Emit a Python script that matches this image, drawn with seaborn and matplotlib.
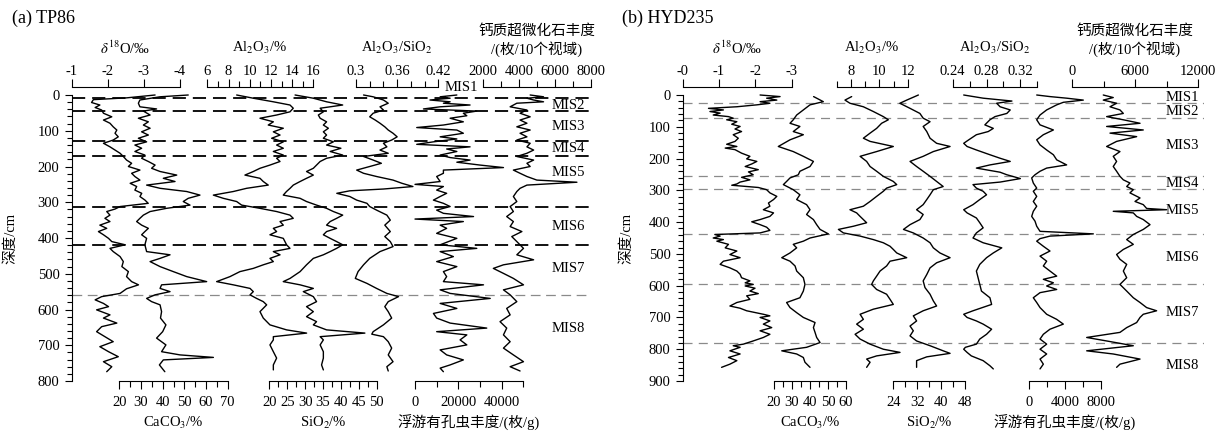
import matplotlib
matplotlib.use("Agg")
import matplotlib.pyplot as plt
import seaborn as sns
import pandas as pd
from matplotlib.ticker import FixedLocator, FixedFormatter

# ======================= (a) TP86 =======================
tp_d18o_depth = [0, 8, 13, 21, 28, 35, 42, 51, 61, 70,
                 79, 89, 98, 107, 117, 126, 135, 145, 154, 163,
                 172, 182, 191, 200, 210, 219, 228, 238, 247, 256,
                 266, 275, 284, 294, 303, 312, 319, 326, 336, 345,
                 354, 364, 373, 382, 391, 401, 410, 419, 429, 438,
                 452, 466, 480, 494, 508, 522, 531, 542, 555, 564,
                 573, 583, 592, 601, 615, 624, 638, 648, 662, 676,
                 690, 704, 718, 732, 746, 760, 774]
tp_d18o = [-3.31, -2.52, -1.60, -1.55, -1.78, -1.65, -1.83, -1.88, -2.11, -1.88,
           -2.06, -2.15, -2.25, -2.20, -2.29, -2.15, -1.88, -2.06, -2.20, -2.34,
           -2.43, -2.52, -2.66, -2.57, -2.89, -2.66, -2.75, -2.89, -2.62, -2.80,
           -2.75, -2.94, -2.89, -3.03, -3.12, -2.34, -2.20, -1.97, -2.06, -1.92,
           -2.06, -1.78, -1.97, -1.74, -1.88, -2.02, -2.11, -2.48, -2.06, -2.15,
           -2.34, -2.43, -2.39, -2.57, -2.52, -2.66, -2.85, -2.52, -2.34, -1.83,
           -1.65, -1.88, -2.02, -1.69, -2.06, -1.88, -2.25, -1.83, -1.69, -1.92,
           -2.15, -1.78, -2.02, -2.29, -1.88, -2.11, -1.97]

tp_caco3_depth = [0, 5, 14, 23, 33, 39, 45, 56, 65, 75,
                  84, 93, 103, 112, 121, 131, 140, 149, 158, 168,
                  177, 186, 196, 205, 214, 224, 233, 242, 252, 261,
                  270, 280, 289, 298, 308, 317, 326, 336, 345, 354,
                  364, 373, 382, 391, 401, 419, 438, 447, 457, 466,
                  480, 494, 508, 522, 531, 541, 550, 559, 569, 578,
                  587, 606, 624, 643, 662, 680, 699, 718, 727, 734,
                  741, 755, 774]
tp_caco3 = [51.8, 38.8, 29.5, 28.8, 29.5, 37.2, 31.1, 34.2, 28.8, 33.4,
            31.1, 34.2, 30.3, 33.4, 28.8, 32.6, 27.2, 30.3, 27.2, 31.8,
            30.3, 33.4, 36.5, 34.9, 38.8, 46.5, 40.3, 45.7, 32.6, 38.8,
            51.1, 57.2, 51.8, 49.5, 52.6, 41.8, 34.2, 31.1, 29.5, 28.0,
            30.3, 33.4, 31.8, 30.3, 32.6, 31.8, 32.6, 43.4, 38.8, 34.2,
            38.8, 44.9, 51.1, 60.3, 39.5, 38.8, 43.4, 36.5, 32.6, 34.9,
            38.8, 39.5, 39.0, 41.5, 40.0, 37.2, 41.5, 39.5, 48.0, 63.4,
            40.3, 38.5, 41.0]

tp_al2o3_depth = [0, 9, 19, 28, 37, 47, 56, 65, 75, 84,
                  93, 103, 112, 121, 131, 140, 149, 158, 168, 177,
                  186, 196, 205, 214, 224, 233, 242, 252, 261, 270,
                  280, 289, 298, 308, 317, 326, 336, 345, 354, 364,
                  373, 382, 391, 401, 419, 429, 438, 447, 457, 466,
                  475, 485, 494, 508, 522, 531, 541, 550, 559, 569,
                  578, 587, 606, 624, 643, 657, 666, 676, 685, 699,
                  718, 736, 755, 769]
tp_al2o3 = [8.77, 10.34, 12.23, 13.80, 14.11, 13.80, 12.54, 10.97, 12.23, 11.75,
            13.17, 12.23, 12.86, 12.07, 13.17, 12.54, 13.17, 12.23, 13.17, 12.54,
            12.86, 11.91, 10.97, 10.34, 9.55, 10.97, 11.28, 11.75, 9.71, 8.45,
            6.57, 7.51, 8.77, 9.24, 10.97, 12.54, 13.80, 14.11, 12.86, 13.17,
            12.23, 12.54, 11.91, 13.17, 13.48, 13.80, 12.23, 12.86, 11.91, 12.23,
            11.28, 10.34, 9.08, 8.14, 6.88, 8.45, 10.03, 10.34, 10.03, 10.65,
            11.28, 11.60, 10.97, 11.28, 11.91, 13.48, 15.37, 12.23, 12.23, 11.91,
            12.23, 12.54, 12.23, 12.23]

tp_sio2_depth = [0, 9, 19, 28, 37, 47, 56, 65, 75, 84,
                 93, 103, 112, 121, 131, 140, 149, 158, 168, 177,
                 186, 196, 205, 214, 224, 233, 242, 252, 261, 270,
                 280, 289, 298, 308, 317, 326, 336, 345, 354, 364,
                 373, 382, 391, 401, 410, 419, 429, 438, 447, 457,
                 475, 494, 513, 522, 531, 541, 550, 564, 578, 592,
                 606, 620, 634, 643, 657, 666, 676, 685, 699, 718,
                 736, 755, 769]
tp_sio2 = [27.2, 32.3, 36.0, 40.5, 34.2, 35.1, 33.7, 34.2, 36.0, 35.1,
           36.5, 35.1, 36.0, 35.1, 37.9, 36.0, 40.0, 37.0, 40.5, 36.0,
           34.2, 33.2, 32.3, 30.4, 32.3, 30.4, 28.6, 26.7, 25.8, 24.8,
           23.9, 28.6, 30.4, 33.2, 36.0, 37.9, 40.5, 38.8, 37.0, 36.0,
           38.8, 36.0, 35.1, 37.0, 38.8, 40.5, 38.8, 37.0, 35.1, 32.3,
           30.4, 28.6, 25.8, 23.9, 28.6, 32.3, 29.5, 32.3, 33.2, 30.4,
           32.3, 30.4, 33.2, 32.3, 36.0, 46.7, 34.2, 35.1, 34.2, 35.1,
           35.1, 34.6, 35.1]

tp_ratio_depth = [0, 5, 14, 23, 33, 42, 51, 61, 70, 79,
                  89, 98, 107, 117, 126, 135, 145, 154, 163, 172,
                  182, 191, 200, 210, 219, 228, 238, 247, 256, 263,
                  268, 275, 284, 294, 303, 312, 322, 336, 350, 364,
                  382, 396, 410, 424, 438, 457, 475, 494, 513, 527,
                  541, 555, 564, 578, 592, 606, 624, 643, 662, 669,
                  676, 690, 708, 727, 746, 760, 772]
tp_ratio = [0.311, 0.325, 0.340, 0.347, 0.335, 0.340, 0.325, 0.320, 0.328, 0.335,
            0.342, 0.347, 0.354, 0.360, 0.352, 0.340, 0.345, 0.335, 0.347, 0.311,
            0.325, 0.337, 0.320, 0.301, 0.311, 0.330, 0.354, 0.367, 0.383, 0.340,
            0.291, 0.272, 0.291, 0.301, 0.316, 0.320, 0.330, 0.345, 0.350, 0.342,
            0.350, 0.342, 0.350, 0.354, 0.335, 0.320, 0.311, 0.303, 0.299, 0.316,
            0.330, 0.345, 0.362, 0.347, 0.342, 0.347, 0.352, 0.340, 0.325, 0.323,
            0.340, 0.347, 0.352, 0.347, 0.354, 0.345, 0.347]

tp_foram_depth = [0, 5, 9, 14, 19, 23, 28, 33, 39, 45,
                  51, 58, 65, 75, 84, 91, 98, 107, 117, 123,
                  131, 138, 145, 151, 158, 168, 175, 182, 188, 196,
                  203, 210, 219, 228, 242, 250, 256, 266, 275, 284,
                  294, 303, 312, 322, 331, 340, 347, 354, 364, 373,
                  387, 401, 419, 429, 438, 452, 466, 480, 494, 508,
                  522, 531, 545, 555, 569, 583, 597, 611, 624, 638,
                  652, 662, 671, 685, 699, 713, 727, 741, 755, 764,
                  774]
tp_foram = [19300, 11600, 16200, 6900, 16200, 13100, 25400, 11600, 3900, 28500,
            22300, 23900, 16200, 22300, 13100, 800, 19300, 22300, 11600, 19300,
            8500, 800, 25400, 14600, 19300, 11600, 16200, 25400, 19300, 30000,
            40800, 13100, 13100, 10000, 11600, 0, 13100, 10000, 14600, 11600,
            8500, 13100, 16200, 10000, 13100, 27000, 0, 22300, 11600, 14600,
            10000, 19300, 11600, 28500, 11600, 17700, 10000, 19300, 13100, 14600,
            13100, 31600, 11600, 16200, 34700, 11600, 19300, 8500, 10000, 16200,
            33100, 10000, 23900, 20800, 23900, 11600, 14600, 22300, 16200, 11600,
            13100]

tp_nanno_depth = [0, 5, 9, 14, 19, 23, 33, 42, 51, 61,
                  70, 79, 89, 98, 107, 117, 126, 135, 145, 154,
                  163, 172, 182, 191, 200, 210, 219, 228, 238, 244,
                  252, 261, 270, 284, 298, 312, 326, 340, 354, 368,
                  382, 396, 410, 429, 447, 461, 475, 485, 499, 513,
                  531, 545, 559, 578, 597, 615, 634, 652, 671, 690,
                  708, 727, 746, 760, 772]
tp_nanno = [4630, 5370, 4450, 4820, 5370, 3890, 3520, 4450, 4070, 4630,
            4070, 4450, 3890, 4630, 4070, 4450, 3890, 4630, 4450, 4820,
            4450, 3890, 4820, 4450, 4630, 3700, 4070, 4450, 5000, 7220,
            4450, 4070, 3890, 3700, 3890, 3520, 3700, 3330, 3700, 3520,
            4170, 3610, 3890, 4260, 3890, 4820, 3150, 2590, 3150, 3700,
            4260, 3150, 3520, 3890, 3330, 3520, 2960, 3330, 3150, 3520,
            3150, 3700, 4260, 3520, 4070]

tp_mis_bounds = [7, 44, 129, 171, 314, 420, 559]
tp_mis_names = ["MIS1", "MIS2", "MIS3", "MIS4", "MIS5", "MIS6", "MIS7", "MIS8"]
tp_mis_label_depth = [-22, 28, 89, 149, 216, 368, 484, 653]

# ======================= (b) HYD235 =======================
hy_d18o_depth = [0, 5, 10, 16, 21, 26, 31, 37, 42, 47,
                 52, 57, 63, 68, 73, 78, 84, 92, 99, 107,
                 115, 125, 136, 146, 155, 162, 167, 172, 183, 193,
                 201, 209, 217, 225, 235, 242, 251, 259, 267, 274,
                 280, 284, 291, 298, 308, 319, 329, 340, 350, 361,
                 371, 382, 392, 399, 408, 416, 426, 434, 439, 444,
                 450, 455, 460, 470, 481, 491, 502, 512, 523, 533,
                 544, 554, 564, 575, 585, 591, 596, 601, 608, 617,
                 625, 632, 643, 653, 664, 671, 679, 690, 695, 700,
                 711, 721, 732, 742, 753, 763, 774, 784, 789, 794,
                 805, 815, 826, 836, 847, 857]
hy_d18o = [-2.13, -2.68, -2.31, -2.59, -2.13, -2.40, -2.04, -1.49, -0.71, -1.12,
           -0.75, -1.03, -0.84, -1.26, -1.39, -1.21, -1.49, -1.35, -1.58, -1.44,
           -1.62, -1.39, -1.53, -1.44, -1.21, -1.49, -1.17, -1.44, -1.62, -1.85,
           -1.76, -2.04, -1.90, -1.72, -2.08, -1.81, -1.94, -1.62, -1.85, -1.58,
           -1.49, -1.35, -2.08, -2.31, -2.40, -2.59, -2.50, -2.36, -2.40, -2.22,
           -2.50, -2.40, -2.13, -1.90, -2.13, -2.31, -2.40, -2.13, -0.89, -1.03,
           -0.84, -1.12, -0.94, -1.26, -1.17, -1.49, -1.30, -1.58, -1.12, -1.03,
           -1.30, -1.49, -1.58, -1.62, -1.85, -1.72, -1.94, -1.72, -1.99, -1.85,
           -2.08, -1.76, -1.85, -1.49, -1.30, -1.58, -1.76, -2.22, -2.40, -2.13,
           -2.40, -2.22, -2.45, -2.13, -2.40, -2.22, -1.94, -1.67, -1.39, -1.58,
           -1.30, -1.58, -1.26, -1.49, -1.30, -1.07]

hy_caco3_depth = [5, 10, 21, 31, 47, 63, 78, 89, 99, 115,
                  125, 141, 162, 178, 193, 209, 225, 240, 251, 261,
                  272, 282, 298, 314, 329, 345, 361, 376, 392, 408,
                  423, 437, 450, 460, 470, 481, 497, 512, 523, 538,
                  554, 575, 596, 617, 638, 653, 669, 685, 700, 716,
                  732, 747, 763, 779, 794, 805, 815, 826, 841, 857]
hy_caco3 = [42.0, 43.7, 47.4, 40.0, 36.3, 32.6, 30.7, 28.9, 34.4, 30.7,
            36.3, 28.9, 22.4, 30.7, 36.3, 41.9, 40.0, 34.4, 33.5, 28.9,
            27.0, 25.2, 30.7, 34.4, 32.6, 38.1, 40.0, 38.1, 41.9, 43.7,
            45.6, 50.2, 40.0, 36.3, 30.7, 32.6, 28.9, 24.3, 28.9, 31.7,
            32.6, 36.3, 37.2, 36.3, 34.4, 27.0, 28.9, 32.6, 36.3, 42.8,
            41.9, 42.8, 43.7, 45.6, 38.1, 24.3, 32.6, 36.3, 37.2, 40.0]

hy_al2o3_depth = [5, 16, 26, 37, 52, 68, 78, 89, 105, 120,
                  136, 146, 162, 178, 193, 209, 225, 240, 256, 272,
                  282, 293, 303, 319, 335, 350, 361, 371, 382, 392,
                  402, 413, 423, 434, 444, 455, 465, 476, 486, 497,
                  512, 523, 538, 554, 570, 585, 596, 612, 627, 643,
                  659, 674, 690, 706, 721, 737, 753, 768, 784, 800,
                  810, 821, 831, 841, 857]
hy_al2o3 = [8.05, 7.58, 7.93, 8.87, 9.57, 10.27, 10.62, 10.15, 9.80, 9.34,
            8.87, 9.34, 10.97, 9.80, 8.64, 9.10, 9.34, 9.80, 10.27, 10.97,
            11.21, 10.50, 10.27, 9.80, 9.34, 8.87, 7.93, 8.40, 8.64, 8.87,
            9.10, 8.17, 7.12, 7.47, 8.64, 9.57, 10.27, 10.74, 10.97, 11.21,
            11.91, 10.74, 10.50, 10.04, 9.80, 9.57, 9.45, 9.80, 10.50, 10.74,
            10.97, 9.57, 8.64, 8.87, 8.40, 8.87, 8.29, 8.64, 9.34, 10.27,
            11.44, 9.80, 9.10, 9.34, 9.10]

hy_sio2_depth = [0, 16, 26, 42, 58, 73, 84, 99, 115, 136,
                 152, 162, 178, 193, 209, 225, 240, 256, 272, 288,
                 298, 314, 329, 345, 361, 376, 392, 408, 423, 434,
                 450, 465, 481, 497, 512, 528, 544, 565, 585, 606,
                 627, 648, 664, 679, 695, 711, 727, 742, 758, 774,
                 789, 805, 813, 824, 836, 857]
hy_sio2 = [32.4, 28.5, 26.2, 29.6, 32.9, 34.0, 36.3, 34.0, 35.2, 36.3,
           38.5, 43.0, 37.4, 34.0, 29.6, 31.8, 34.0, 36.3, 38.5, 40.7,
           37.4, 36.3, 35.2, 34.0, 31.8, 34.0, 32.9, 29.6, 27.4, 30.7,
           34.0, 36.3, 37.4, 39.6, 43.0, 38.5, 36.3, 35.2, 34.0, 34.6,
           36.3, 37.4, 38.5, 34.0, 30.7, 31.8, 29.6, 30.7, 29.6, 31.8,
           36.3, 40.7, 43.0, 35.2, 31.8, 31.8]

hy_ratio_depth = [0, 10, 19, 26, 37, 47, 58, 68, 78, 94,
                  105, 115, 125, 141, 152, 162, 173, 188, 199, 209,
                  220, 230, 243, 251, 263, 274, 282, 293, 303, 314,
                  329, 345, 361, 371, 387, 402, 418, 434, 450, 465,
                  481, 497, 512, 533, 554, 575, 596, 617, 638, 659,
                  679, 690, 700, 711, 721, 737, 753, 768, 784, 794,
                  800, 810, 821, 836, 852, 862]
hy_ratio = [0.253, 0.276, 0.310, 0.292, 0.296, 0.308, 0.304, 0.290, 0.284, 0.278,
            0.288, 0.282, 0.268, 0.259, 0.253, 0.257, 0.268, 0.284, 0.296, 0.308,
            0.284, 0.268, 0.296, 0.304, 0.320, 0.296, 0.264, 0.268, 0.276, 0.280,
            0.272, 0.264, 0.253, 0.257, 0.268, 0.272, 0.276, 0.268, 0.264, 0.276,
            0.298, 0.288, 0.280, 0.272, 0.268, 0.270, 0.272, 0.274, 0.284, 0.286,
            0.264, 0.253, 0.257, 0.268, 0.276, 0.286, 0.280, 0.272, 0.268, 0.255,
            0.253, 0.257, 0.262, 0.276, 0.284, 0.288]

hy_foram_depth = [0, 5, 10, 16, 23, 31, 47, 63, 78, 94,
                  110, 125, 141, 157, 173, 188, 204, 220, 230, 240,
                  251, 261, 277, 293, 303, 319, 335, 350, 366, 382,
                  397, 413, 429, 437, 444, 452, 460, 476, 491, 507,
                  523, 538, 554, 570, 580, 591, 601, 612, 622, 638,
                  653, 669, 690, 706, 721, 737, 753, 768, 784, 800,
                  815, 831, 847, 862]
hy_foram = [860, 2340, 4200, 6060, 3830, 3090, 1970, 1230, 860, 1230,
            2720, 1600, 860, 1230, 1970, 2720, 3090, 4200, 1970, 1230,
            670, 300, 480, 860, 480, 860, 480, 860, 480, 300,
            670, 860, 1230, 7180, 2340, 1230, 860, 1600, 2340, 1230,
            1970, 1600, 2340, 3090, 1600, 2720, 1970, 3090, 1230, 480,
            860, 1230, 1970, 3090, 3830, 2340, 1600, 1230, 1970, 1230,
            1970, 1230, 1600, 1230]

hy_nanno_depth = [0, 8, 16, 26, 37, 47, 58, 68, 78, 89,
                  99, 110, 120, 131, 146, 162, 178, 193, 209, 225,
                  240, 256, 267, 277, 288, 298, 308, 324, 335, 345,
                  357, 361, 366, 371, 382, 392, 408, 423, 439, 455,
                  470, 486, 502, 517, 533, 554, 575, 596, 617, 638,
                  653, 669, 679, 690, 700, 716, 732, 747, 763, 774,
                  789, 805, 815, 831, 847, 857]
hy_nanno = [2950, 3900, 2950, 4220, 3590, 4540, 4860, 3270, 4860, 6450,
            3270, 6760, 3590, 6130, 4220, 3270, 4540, 3900, 4220, 3900,
            4220, 4540, 4860, 5490, 5180, 5810, 5490, 6450, 5970, 6760,
            7080, 8990, 3900, 5810, 6130, 6760, 7400, 6760, 5810, 5180,
            5810, 4860, 4220, 4540, 5180, 4860, 5180, 4540, 5180, 5810,
            6450, 7080, 8030, 6760, 6450, 6130, 5180, 4540, 1370, 3270,
            5810, 1370, 3900, 6450, 4540, 4220]

hy_mis_bounds = [26, 71, 256, 296, 437, 594, 779]
hy_mis_names = ["MIS1", "MIS2", "MIS3", "MIS4", "MIS5", "MIS6", "MIS7", "MIS8"]
hy_mis_label_depth = [8, 52, 160, 277, 364, 512, 686, 850]

# ======================= style =======================
sns.set_style("ticks")
plt.rcParams.update({
    "font.family": ["Liberation Serif", "Noto Sans CJK SC"],
    "mathtext.fontset": "stix",
    "axes.unicode_minus": False,
    "lines.scale_dashes": False,
    "axes.edgecolor": "black",
    "axes.labelcolor": "black",
    "text.color": "black",
    "xtick.color": "black",
    "ytick.color": "black",
    "axes.linewidth": 0.8,
})

W, H = 1226, 436
fig = plt.figure(figsize=(W / 100, H / 100), dpi=100)
Y0, Y1 = 95, 381
TICK_FS = 10.5


def add_ax(x0, x1):
    return fig.add_axes([x0 / W, 1 - Y1 / H, (x1 - x0) / W, (Y1 - Y0) / H])


def ftext(x, y, s, **kw):
    fig.text(x / W, 1 - y / H, s, ha="center", va="center", fontsize=10.5, **kw)


def depth_axis(x0, x1, dmax, bounds, names, label_depth, label_x, label1_x,
               styles):
    ax = add_ax(x0, x1)
    ax.set_facecolor("none")
    ax.set_xlim(0, 1)
    ax.set_ylim(dmax, 0)
    for s in ["top", "right", "bottom"]:
        ax.spines[s].set_visible(False)
    ax.set_xticks([])
    ax.yaxis.set_major_locator(FixedLocator(list(range(0, dmax + 1, 100))))
    ax.yaxis.set_minor_locator(FixedLocator(list(range(0, dmax + 1, 20))))
    ax.tick_params(axis="y", which="major", direction="out", length=5,
                   width=0.8, labelsize=TICK_FS, pad=4)
    ax.tick_params(axis="y", which="minor", direction="out", length=3.5,
                   width=0.8)
    for b, st in zip(bounds, styles):
        ax.axhline(b, xmin=0, xmax=1, **st, zorder=0)
    for i, (n, d) in enumerate(zip(names, label_depth)):
        xx = label1_x if (i == 0 and label1_x is not None) else label_x
        ax.text(xx, d, n, transform=ax.get_yaxis_transform(), ha="left",
                va="center", fontsize=10.5)
    return ax


def track(x0, x1, depth, vals, xlim, dmax, side, major, labels, minor):
    ax = add_ax(x0, x1)
    ax.set_facecolor("none")
    df = pd.DataFrame({"depth": depth, "value": vals})
    sns.lineplot(data=df, x="value", y="depth", sort=False, estimator=None,
                 color="black", lw=1.0, ax=ax, clip_on=False)
    ax.set_xlim(*xlim)
    ax.set_ylim(dmax, 0)
    ax.set_xlabel("")
    ax.set_ylabel("")
    ax.set_yticks([])
    for s in ["left", "right", "top", "bottom"]:
        ax.spines[s].set_visible(s == side)
    if side == "top":
        ax.spines["top"].set_position(("outward", 5.8))
        ax.xaxis.tick_top()
        pad = 1.0
    else:
        ax.xaxis.tick_bottom()
        pad = 5.0
    ax.xaxis.set_major_locator(FixedLocator(major))
    ax.xaxis.set_major_formatter(FixedFormatter(labels))
    ax.xaxis.set_minor_locator(FixedLocator(minor))
    ax.tick_params(axis="x", which="major", direction="out", length=5.5,
                   width=0.8, labelsize=TICK_FS, pad=pad)
    ax.tick_params(axis="x", which="minor", direction="out", length=4,
                   width=0.8)
    return ax


blk = dict(color="#111111", lw=1.4, ls=(0, (9.5, 5)))
gry_a = dict(color="#8a8a8a", lw=0.9, ls=(0, (7, 4)))
gry_b = dict(color="#8a8a8a", lw=0.9, ls=(0, (6.5, 4.5)))

# ---------------- panel (a) ----------------
depth_axis(72, 591, 800, tp_mis_bounds, tp_mis_names, tp_mis_label_depth,
           0.924, 0.717, [blk] * 6 + [gry_a])
track(71.7, 180, tp_d18o_depth, tp_d18o, (-1, -4), 800, "top",
      [-1, -2, -3, -4], ["-1", "-2", "-3", "-4"], [])
track(207.3, 313.3, tp_al2o3_depth, tp_al2o3, (6, 16), 800, "top",
      [6, 8, 10, 12, 14, 16], ["6", "8", "10", "12", "14", "16"],
      [7, 9, 11, 13, 15])
track(356, 438.3, tp_ratio_depth, tp_ratio, (0.30, 0.42), 800, "top",
      [0.30, 0.36, 0.42], ["0.3", "0.36", "0.42"], [0.32, 0.34, 0.38, 0.40])
track(482.7, 591, tp_nanno_depth, tp_nanno, (2000, 8000), 800, "top",
      [2000, 4000, 6000, 8000], ["2000", "4000", "6000", "8000"],
      [3000, 5000, 7000])
track(119.3, 227.7, tp_caco3_depth, tp_caco3, (20, 70), 800, "bottom",
      [20, 30, 40, 50, 60, 70], ["20", "30", "40", "50", "60", "70"],
      [25, 35, 45, 55, 65])
track(269.3, 376.7, tp_sio2_depth, tp_sio2, (20, 50), 800, "bottom",
      [20, 25, 30, 35, 40, 45, 50], ["20", "25", "30", "35", "40", "45", "50"],
      [22.5, 27.5, 32.5, 37.5, 42.5, 47.5])
track(415, 523.4, tp_foram_depth, tp_foram, (0, 50000), 800, "bottom",
      [0, 20000, 40000], ["0", "20000", "40000"], [10000, 30000, 50000])

# ---------------- panel (b) ----------------
depth_axis(683, 1204, 900, hy_mis_bounds, hy_mis_names, hy_mis_label_depth,
           0.9266, None, [gry_b] * 7)
track(682.7, 791.7, hy_d18o_depth, hy_d18o, (0, -3), 900, "top",
      [0, -1, -2, -3], ["-0", "-1", "-2", "-3"], [])
track(836.7, 908, hy_al2o3_depth, hy_al2o3, (7, 12), 900, "top",
      [8, 10, 12], ["8", "10", "12"], [7, 9, 11])
track(952.7, 1037.3, hy_ratio_depth, hy_ratio, (0.24, 0.34), 900, "top",
      [0.24, 0.28, 0.32], ["0.24", "0.28", "0.32"], [0.26, 0.30, 0.34])
track(1072.3, 1198.3, hy_nanno_depth, hy_nanno, (0, 12000), 900, "top",
      [0, 6000, 12000], ["0", "6000", "12000"], [3000, 9000])
track(774, 846, hy_caco3_depth, hy_caco3, (20, 60), 900, "bottom",
      [20, 30, 40, 50, 60], ["20", "30", "40", "50", "60"],
      [25, 35, 45, 55])
track(893.3, 965, hy_sio2_depth, hy_sio2, (24, 48), 900, "bottom",
      [24, 32, 40, 48], ["24", "32", "40", "48"], [28, 36, 44])
track(1029, 1100.7, hy_foram_depth, hy_foram, (0, 8000), 900, "bottom",
      [0, 4000, 8000], ["0", "4000", "8000"], [2000, 6000])

# ---------------- titles ----------------
fig.text(12 / W, 1 - 18 / H, "(a) TP86", ha="left", va="center", fontsize=13)
fig.text(622 / W, 1 - 18 / H, "(b) HYD235", ha="left", va="center", fontsize=13)
fig.text(10 / W, 1 - 238 / H, "深度/cm", rotation=90, ha="center", va="center",
         fontsize=10.5)
fig.text(626 / W, 1 - 238 / H, "深度/cm", rotation=90, ha="center", va="center",
         fontsize=10.5)

d18o_title = r"$\delta^{18}$O/‰"
al_title = r"Al$_2$O$_3$/%"
ratio_title = r"Al$_2$O$_3$/SiO$_2$"
ftext(125, 48, d18o_title)
ftext(260, 48, al_title)
ftext(397, 48, ratio_title)
ftext(537, 31, "钙质超微化石丰度")
ftext(537, 49, "/(枚/10个视域)")
ftext(173.5, 423, r"CaCO$_3$/%")
ftext(323, 423, r"SiO$_2$/%")
ftext(469, 423, "浮游有孔虫丰度/(枚/g)")

ftext(737, 48, d18o_title)
ftext(872, 48, al_title)
ftext(995, 48, ratio_title)
ftext(1135, 31, "钙质超微化石丰度")
ftext(1135, 49, "/(枚/10个视域)")
ftext(810, 423, r"CaCO$_3$/%")
ftext(929, 423, r"SiO$_2$/%")
ftext(1065, 423, "浮游有孔虫丰度/(枚/g)")

fig.savefig("out.png", dpi=100)
